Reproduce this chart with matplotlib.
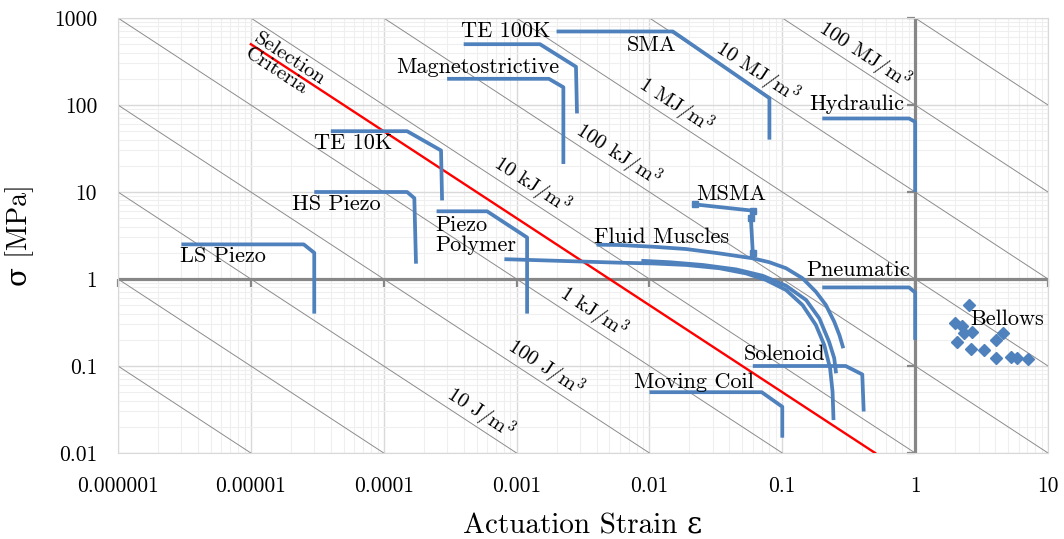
import numpy as np
import matplotlib.pyplot as plt
from matplotlib.ticker import LogLocator, NullFormatter

# actuator envelopes: strain (-) vs stress (MPa)
ls_piezo_x = [3e-6, 2.5e-5, 3e-5, 3e-5]
ls_piezo_y = [2.5, 2.5, 2.0, 0.4]
hs_piezo_x = [3e-5, 1.5e-4, 1.7e-4, 1.75e-4]
hs_piezo_y = [10, 10, 8.5, 1.5]
te10k_x = [4e-5, 1.5e-4, 2.7e-4, 2.75e-4]
te10k_y = [50, 50, 30, 8]
magneto_x = [3e-4, 1.75e-3, 2.25e-3, 2.25e-3]
magneto_y = [200, 200, 160, 21]
te100k_x = [4e-4, 1.5e-3, 2.8e-3, 2.85e-3]
te100k_y = [500, 500, 275, 80]
sma_x = [2e-3, 0.015, 0.08, 0.08]
sma_y = [700, 700, 120, 40]
hydraulic_x = [0.2, 0.9, 1, 1]
hydraulic_y = [70, 70, 64, 10]
pneumatic_x = [0.2, 0.9, 1, 1]
pneumatic_y = [0.8, 0.8, 0.7, 0.2]
solenoid_x = [0.06, 0.3, 0.4, 0.41]
solenoid_y = [0.1, 0.1, 0.08, 0.03]
moving_coil_x = [0.01, 0.07, 0.1, 0.1]
moving_coil_y = [0.05, 0.05, 0.034, 0.015]
piezo_poly_x = [2.5e-4, 6e-4, 1.2e-3, 1.2e-3]
piezo_poly_y = [6, 6, 3, 0.4]
msma_x = [0.022, 0.06, 0.058, 0.06]
msma_y = [7.2, 6.1, 5.0, 2.0]
fluid_x = [4.0e-3, 5.9e-3, 0.0106, 0.0189, 0.0336, 0.0598, 0.0798, 0.1067,
           0.142, 0.179, 0.213, 0.246, 0.269, 0.288]
fluid_y = [2.48, 2.46, 2.35, 2.21, 1.97, 1.73, 1.56, 1.33,
           1.02, 0.714, 0.502, 0.323, 0.227, 0.160]
curve_a_x = [8.1e-4, 5.9e-3, 0.0106, 0.0189, 0.0336, 0.0533, 0.0753, 0.1067,
             0.142, 0.179, 0.207, 0.229, 0.239, 0.243]
curve_a_y = [1.69, 1.54, 1.51, 1.45, 1.33, 1.16, 0.975, 0.748,
             0.502, 0.296, 0.174, 0.094, 0.0507, 0.0239]
curve_b_x = [8.7e-3, 0.0141, 0.0252, 0.0449, 0.0711, 0.1067, 0.151, 0.190,
             0.225, 0.246, 0.254]
curve_b_y = [1.62, 1.56, 1.45, 1.29, 1.09, 0.838, 0.574, 0.353,
             0.190, 0.123, 0.0824]
bellows_x = [2.55, 2.0, 2.27, 2.32, 2.70, 4.59, 4.05, 2.08, 2.64, 3.30,
             4.08, 5.24, 5.88, 7.03]
bellows_y = [0.50, 0.31, 0.29, 0.238, 0.248, 0.238, 0.199, 0.187, 0.157,
             0.153, 0.123, 0.126, 0.123, 0.119]

# iso energy density lines (MJ/m3)
energies = [1e-7, 1e-6, 1e-5, 1e-4, 1e-3, 1e-2, 1e-1, 1, 10, 100, 1000]
energy_labels = ['10 J/m$^3$', '100 J/m$^3$', '1 kJ/m$^3$', '10 kJ/m$^3$',
                 '100 kJ/m$^3$', '1 MJ/m$^3$', '10 MJ/m$^3$', '100 MJ/m$^3$']
energy_label_vals = [1e-5, 1e-4, 1e-3, 1e-2, 1e-1, 1, 10, 100]
energy_label_x = [4.67e-4, 1.44e-3, 3.3e-3, 1.13e-3, 5.09e-3, 0.0139, 0.0565, 0.366]
selection_energy = 5e-3
selection_x = [1e-5, 0.5]

xticks = [1e-6, 1e-5, 1e-4, 1e-3, 1e-2, 1e-1, 1, 10]
xticklabels = ['0.000001', '0.00001', '0.0001', '0.001', '0.01', '0.1', '1', '10']
yticks = [0.01, 0.1, 1, 10, 100, 1000]
yticklabels = ['0.01', '0.1', '1', '10', '100', '1000']

plt.rcParams['font.family'] = ['cmr10', 'DejaVu Serif']
plt.rcParams['mathtext.fontset'] = 'cm'
plt.rcParams['axes.formatter.use_mathtext'] = True

blue = '#4f81bd'
fig = plt.figure(figsize=(10.64, 5.39), dpi=100)
ax = fig.add_axes([118 / 1064, 1 - 453 / 539, 930 / 1064, 435 / 539])
ax.set_xscale('log')
ax.set_yscale('log')
ax.set_xlim(1e-6, 10)
ax.set_ylim(0.01, 1000)

ax.xaxis.set_minor_locator(LogLocator(subs=np.arange(2, 10)))
ax.yaxis.set_minor_locator(LogLocator(subs=np.arange(2, 10)))
ax.xaxis.set_minor_formatter(NullFormatter())
ax.yaxis.set_minor_formatter(NullFormatter())
ax.grid(which='major', color='#d9d9d9', lw=1.0, zorder=0)
ax.grid(which='minor', color='#efefef', lw=0.8, zorder=0)
ax.set_axisbelow(True)
for s in ax.spines.values():
    s.set_color('#d9d9d9')
ax.set_xticks(xticks)
ax.set_xticklabels(xticklabels)
ax.set_yticks(yticks)
ax.set_yticklabels(yticklabels)
ax.tick_params(which='both', length=0)
ax.tick_params(axis='x', pad=17, labelsize=15.5)
ax.tick_params(axis='y', pad=15, labelsize=15.5)

# energy lines
eps = np.array([1e-6, 10])
for E in energies:
    ax.plot(eps, E / eps, color='#8c8c8c', lw=0.7, zorder=1)
theta = np.degrees(np.arctan((87 / 133)))
nx, ny = np.sin(np.radians(theta)), np.cos(np.radians(theta))
for lab, E, xs in zip(energy_labels, energy_label_vals, energy_label_x):
    ax.annotate(lab, xy=(xs, E / xs), xytext=(9.5 * nx, 9.5 * ny),
                textcoords='offset points', rotation=-theta,
                rotation_mode='anchor', ha='center', va='center', fontsize=15)

# axes crossing at 1
ax.axhline(1, color='#878787', lw=2.3, zorder=2)
ax.axvline(1, color='#878787', lw=2.3, zorder=2)
ax.plot(xticks, [1] * len(xticks), ls='none', marker=3, ms=6, mew=1.6,
        color='#878787', zorder=2, clip_on=False)
ax.plot([1] * len(yticks), yticks, ls='none', marker=0, ms=6, mew=1.6,
        color='#878787', zorder=2, clip_on=False)

# selection criteria
sx = np.array(selection_x)
ax.plot(sx, selection_energy / sx, color='red', lw=1.7, zorder=3)
ax.text(sx[0], selection_energy / sx[0], 'Selection\nCriteria', rotation=-theta,
        rotation_mode='anchor', ha='left', va='center', fontsize=15,
        linespacing=0.95)

# actuators
lw = 2.7
for xs, ys in [(ls_piezo_x, ls_piezo_y), (hs_piezo_x, hs_piezo_y),
               (te10k_x, te10k_y), (magneto_x, magneto_y),
               (te100k_x, te100k_y), (sma_x, sma_y),
               (hydraulic_x, hydraulic_y), (pneumatic_x, pneumatic_y),
               (solenoid_x, solenoid_y), (moving_coil_x, moving_coil_y),
               (piezo_poly_x, piezo_poly_y), (fluid_x, fluid_y),
               (curve_a_x, curve_a_y), (curve_b_x, curve_b_y)]:
    ax.plot(xs, ys, color=blue, lw=lw, solid_joinstyle='round',
            solid_capstyle='butt', zorder=4)
ax.plot(msma_x, msma_y, color=blue, lw=lw, marker='s', ms=4.5, zorder=4)
ax.plot(bellows_x, bellows_y, ls='none', marker='D', ms=6, color=blue, zorder=4)

labels = [('TE 100K', 3.8e-4, 710), ('SMA', 6.8e-3, 490),
          ('Magnetostrictive', 1.25e-4, 273), ('Hydraulic', 0.16, 103),
          ('TE 10K', 3.0e-5, 36.6), ('HS Piezo', 2.03e-5, 7.3),
          ('LS Piezo', 2.92e-6, 1.84), ('Piezo\nPolymer', 2.46e-4, 3.2),
          ('MSMA', 0.0225, 9.5), ('Fluid Muscles', 3.8e-3, 3.04),
          ('Pneumatic', 0.151, 1.27), ('Bellows', 2.59, 0.347),
          ('Solenoid', 0.051, 0.137), ('Moving Coil', 7.6e-3, 0.0655)]
for t, x, y in labels:
    ax.text(x, y, t, ha='left', va='center', fontsize=16, linespacing=1.0,
            zorder=5)

ax.set_xlabel('Actuation Strain ε', fontsize=21, labelpad=12)
ax.set_ylabel('σ [MPa]', fontsize=20, labelpad=14)

fig.savefig('out.png', dpi=100)
